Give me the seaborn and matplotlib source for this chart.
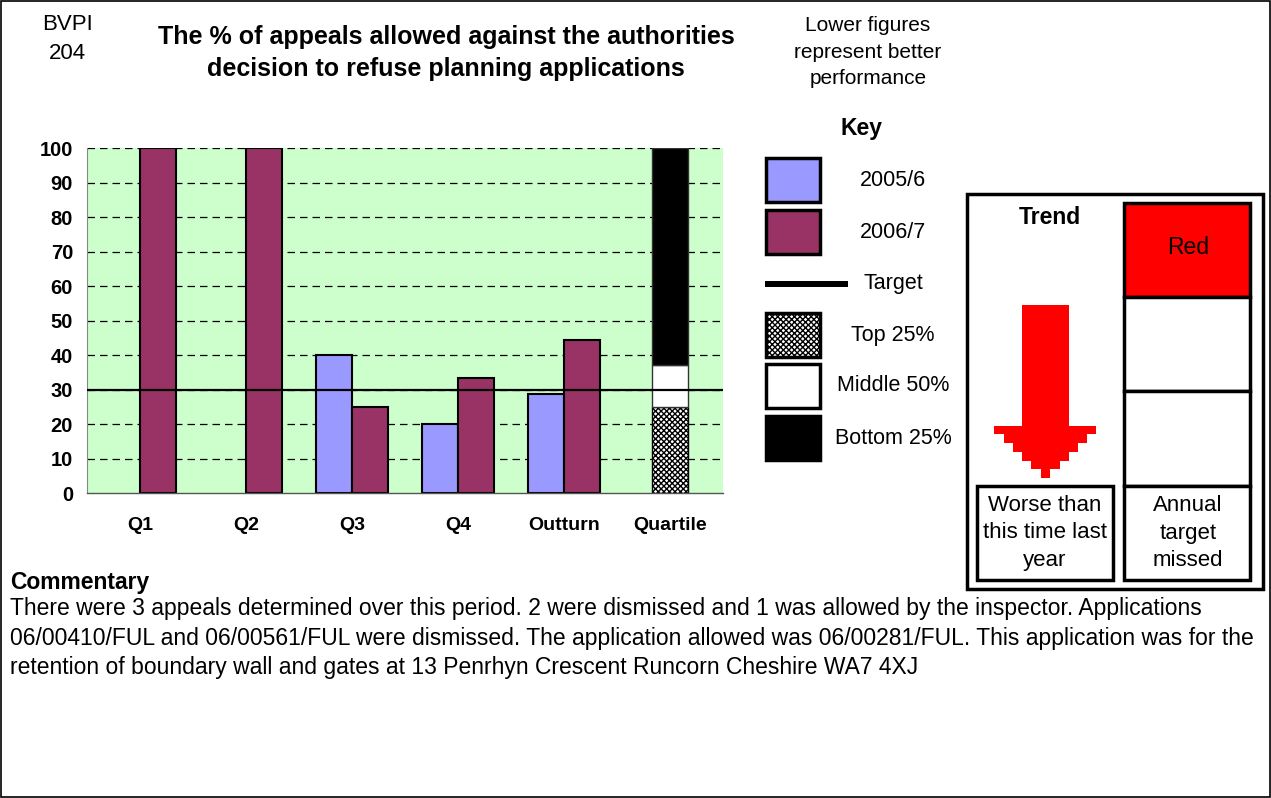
import numpy as np
import pandas as pd
import matplotlib
matplotlib.use("Agg")
import matplotlib.pyplot as plt
from matplotlib.patches import Rectangle, Polygon
import seaborn as sns

# ---- data ----
categories = ["Q1", "Q2", "Q3", "Q4", "Outturn", "Quartile"]
years = ["2005/6", "2006/7"]
vals_2005 = [np.nan, np.nan, 40.0, 20.0, 28.6, np.nan]
vals_2006 = [100.0, 100.0, 25.0, 33.3, 44.4, np.nan]
target = 30.0
quartile_names = ["Top 25%", "Middle 50%", "Bottom 25%"]
quartile_bounds = [0.0, 25.0, 37.0, 100.0]
yticks = list(range(0, 101, 10))

title = "The % of appeals allowed against the authorities\ndecision to refuse planning applications"
commentary = ("There were 3 appeals determined over this period. 2 were dismissed and 1 was allowed by the inspector. Applications\n"
              "06/00410/FUL and 06/00561/FUL were dismissed. The application allowed was 06/00281/FUL. This application was for the\n"
              "retention of boundary wall and gates at 13 Penrhyn Crescent Runcorn Cheshire WA7 4XJ")

C_BLUE = "#9999FF"
C_MAROON = "#993366"
C_BG = "#CCFFCC"

sns.set_style("white")
plt.rcParams["font.family"] = ["Liberation Sans", "DejaVu Sans"]
plt.rcParams["hatch.linewidth"] = 1.0
plt.rcParams["text.color"] = "black"
plt.rcParams["xtick.color"] = "black"
plt.rcParams["ytick.color"] = "black"
plt.rcParams["xtick.labelcolor"] = "black"
plt.rcParams["ytick.labelcolor"] = "black"

W, H = 1271, 798
fig = plt.figure(figsize=(W / 100, H / 100), dpi=100)


def fx(x):
    return x / W


def fy(y):
    return 1 - y / H


def frect(x0, y0, x1, y1, **kw):
    r = Rectangle((fx(x0), fy(y1)), (x1 - x0) / W, (y1 - y0) / H,
                  transform=fig.transFigure, **kw)
    fig.add_artist(r)
    return r


# border around figure
frect(0.5, 0.5, W - 1, H - 1, facecolor="none", edgecolor="black", lw=1.2)

# ---- axes ----
ax = fig.add_axes([fx(87), fy(493), (723 - 87) / W, (493 - 148) / H])
ax.set_facecolor(C_BG)

rows = []
for c, a, b in zip(categories, vals_2005, vals_2006):
    if not np.isnan(a):
        rows.append({"cat": c, "year": years[0], "val": a})
    if not np.isnan(b):
        rows.append({"cat": c, "year": years[1], "val": b})
df = pd.DataFrame(rows)

for yv in yticks[1:]:
    ax.axhline(yv, color="black", lw=0.9, ls=(0, (6, 4)), zorder=0.5)

sns.barplot(data=df, x="cat", y="val", hue="year", order=categories,
            hue_order=years, palette=[C_BLUE, C_MAROON], saturation=1,
            width=0.68, edgecolor="black", linewidth=1.5, legend=False,
            ax=ax, zorder=2)

# quartile stacked bar
qx = categories.index("Quartile")
qstyles = [dict(facecolor="white", hatch="xxxxxx", edgecolor="black"),
           dict(facecolor="white", edgecolor="#333333"),
           dict(facecolor="black", edgecolor="#333333")]
for i in range(3):
    ax.bar(qx, quartile_bounds[i + 1] - quartile_bounds[i], bottom=quartile_bounds[i],
           width=0.34, lw=1.0, zorder=2, **qstyles[i])

ax.axhline(target, color="black", lw=1.6, zorder=3)

ax.set_xlim(-0.5, len(categories) - 0.5)
ax.set_ylim(0, 100)
ax.set_yticks(yticks)
ax.set_yticklabels([str(v) for v in yticks], fontweight="bold", fontsize=14.5)
ax.set_xticks(range(len(categories)))
ax.set_xticklabels(categories, fontweight="bold", fontsize=14)
ax.set_xticks(np.arange(-0.5, len(categories), 1.0), minor=True)
ax.tick_params(axis="x", which="major", length=0, pad=17)
ax.tick_params(axis="x", which="minor", length=7, direction="out", color="#555555", width=1)
ax.tick_params(axis="y", length=0, pad=10)
ax.set_xlabel("")
ax.set_ylabel("")
for s in ["top", "right"]:
    ax.spines[s].set_visible(False)
ax.spines["left"].set_color("#888888")
ax.spines["bottom"].set_color("#555555")
ax.spines["left"].set_linewidth(0.8)
ax.spines["bottom"].set_linewidth(1.0)

# ---- header texts ----
fig.text(fx(67), fy(39), "BVPI\n204", ha="center", va="center", fontsize=16,
         linespacing=1.55)
fig.text(fx(446), fy(53), title, ha="center", va="center", fontsize=18,
         fontweight="bold", linespacing=1.47)
fig.text(fx(868), fy(52), "Lower figures\nrepresent better\nperformance",
         ha="center", va="center", fontsize=15, linespacing=1.47)

# ---- key ----
fig.text(fx(862), fy(128), "Key", ha="center", va="center", fontsize=16.5,
         fontweight="bold")
key_items = [
    ("box", dict(facecolor=C_BLUE), years[0], 180),
    ("box", dict(facecolor=C_MAROON), years[1], 232),
    ("line", None, "Target", 284),
    ("box", dict(facecolor="white", hatch="xxxxxx"), quartile_names[0], 335),
    ("box", dict(facecolor="white"), quartile_names[1], 386),
    ("box", dict(facecolor="black"), quartile_names[2], 438),
]
for kind, sty, lab, yc in key_items:
    if kind == "box":
        frect(766, yc - 22, 820, yc + 22, edgecolor="black", lw=2.5, **sty)
    else:
        frect(765, yc - 3, 848, yc + 3, facecolor="black", edgecolor="black", lw=0)
    fig.text(fx(893), fy(yc), lab, ha="center", va="center", fontsize=15.5)

# ---- trend box ----
frect(967, 194, 1263, 589, facecolor="white", edgecolor="black", lw=2.5)
fig.text(fx(1050), fy(218), "Trend", ha="center", va="center", fontsize=16.5,
         fontweight="bold")
frect(1124, 203, 1250, 297, facecolor="#FF0000", edgecolor="black", lw=2.5)
fig.text(fx(1188), fy(248), "Red", ha="center", va="center", fontsize=16.5)
frect(1124, 297, 1250, 391, facecolor="white", edgecolor="black", lw=2.5)
frect(1124, 391, 1250, 486, facecolor="white", edgecolor="black", lw=2.5)
frect(1124, 486, 1250, 580, facecolor="white", edgecolor="black", lw=2.5)
fig.text(fx(1188), fy(533), "Annual\ntarget\nmissed", ha="center", va="center",
         fontsize=16, linespacing=1.42)
frect(977, 486, 1113, 580, facecolor="white", edgecolor="black", lw=2.5)
fig.text(fx(1045), fy(533), "Worse than\nthis time last\nyear", ha="center",
         va="center", fontsize=16, linespacing=1.42)

# red stepped arrow
pts = [(1022, 305), (1069, 305), (1069, 426), (1096, 426), (1096, 434),
       (1087, 434), (1087, 443), (1078, 443), (1078, 452), (1069, 452),
       (1069, 461), (1060, 461), (1060, 469), (1050, 469), (1050, 478),
       (1041, 478), (1041, 469), (1031, 469), (1031, 461), (1022, 461),
       (1022, 452), (1013, 452), (1013, 443), (1004, 443), (1004, 434),
       (994, 434), (994, 426), (1022, 426)]
fig.add_artist(Polygon([(fx(x), fy(y)) for x, y in pts], closed=True,
                       transform=fig.transFigure, facecolor="#FF0000",
                       edgecolor="none"))

# ---- commentary ----
fig.text(fx(10), fy(582), "Commentary", ha="left", va="center", fontsize=16.5,
         fontweight="bold")
fig.text(fx(10), fy(638), commentary, ha="left", va="center", fontsize=16.5,
         linespacing=1.36)

fig.savefig("out.png", dpi=100)
